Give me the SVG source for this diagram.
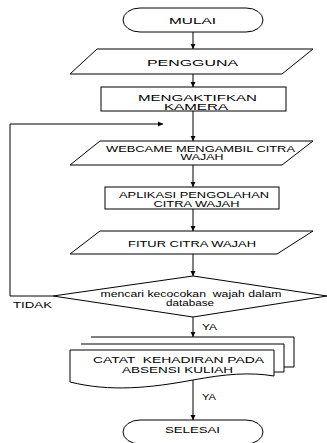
<svg xmlns="http://www.w3.org/2000/svg" width="327" height="443" viewBox="0 0 327 443">
<style>
.s{fill:#fff;stroke:#000;stroke-width:1}
.t{font-family:"Liberation Sans",Arial,sans-serif;font-size:8.6px;fill:#000}
.c{fill:none;stroke:#000;stroke-width:1}
</style>
<defs>
<marker id="ah" markerWidth="6" markerHeight="6" refX="5" refY="3" orient="auto" markerUnits="userSpaceOnUse">
<path d="M0,0.5 L5,3 L0,5.5 Z" fill="#000"/>
</marker>
</defs>
<rect width="327" height="443" fill="#fff"/>
<g id="connectors">
<line class="c" x1="193" y1="32" x2="193" y2="49" marker-end="url(#ah)"/>
<line class="c" x1="193" y1="74" x2="193" y2="87" marker-end="url(#ah)"/>
<line class="c" x1="193" y1="111" x2="193" y2="141" marker-end="url(#ah)"/>
<line class="c" x1="193" y1="165" x2="193" y2="187" marker-end="url(#ah)"/>
<line class="c" x1="193" y1="209" x2="193" y2="231" marker-end="url(#ah)"/>
<line class="c" x1="193" y1="254" x2="193" y2="276" marker-end="url(#ah)"/>
<line class="c" x1="193" y1="317" x2="193" y2="337" marker-end="url(#ah)"/>
<line class="c" x1="193" y1="380" x2="193" y2="420" marker-end="url(#ah)"/>
<polyline class="c" points="53,296 10,296 10,124 163,124" stroke="#333" marker-end="url(#ah)"/>
</g>
<g id="mulai">
<rect class="s" x="123" y="8" width="140" height="24" rx="17" ry="12"/>
<text class="t" x="169" y="24" font-size="9.5" textLength="47" lengthAdjust="spacingAndGlyphs">MULAI</text>
</g>
<g id="pengguna">
<polygon class="s" points="97,49 313,49 282,74 70,74"/>
<text class="t" x="147" y="65.5" font-size="10" textLength="91" lengthAdjust="spacingAndGlyphs">PENGGUNA</text>
</g>
<g id="kamera">
<rect class="s" x="101" y="87" width="185" height="24"/>
<text class="t" x="138" y="100.5" textLength="119" lengthAdjust="spacingAndGlyphs">MENGAKTIFKAN</text>
<text class="t" x="164" y="109.5" textLength="64" lengthAdjust="spacingAndGlyphs">KAMERA</text>
</g>
<g id="webcame">
<polygon class="s" points="100,141 313,141 282,165 70,165"/>
<text class="t" x="106" y="151.5" textLength="189" lengthAdjust="spacingAndGlyphs">WEBCAME MENGAMBIL CITRA</text>
<text class="t" x="180.5" y="160" textLength="43" lengthAdjust="spacingAndGlyphs">WAJAH</text>
</g>
<g id="aplikasi">
<rect class="s" x="105" y="187" width="174" height="22"/>
<text class="t" x="119" y="197.5" textLength="150" lengthAdjust="spacingAndGlyphs">APLIKASI PENGOLAHAN</text>
<text class="t" x="153.5" y="206.5" textLength="86" lengthAdjust="spacingAndGlyphs">CITRA WAJAH</text>
</g>
<g id="fitur">
<polygon class="s" points="100,231 313,231 277,254 70,254"/>
<text class="t" x="128" y="246.5" textLength="128" lengthAdjust="spacingAndGlyphs">FITUR CITRA WAJAH</text>
</g>
<g id="decision">
<polygon class="s" points="193,276 327,296 193,317 53,296"/>
<text class="t" x="100.5" y="296.5" textLength="181" lengthAdjust="spacingAndGlyphs" xml:space="preserve">mencari kecocokan  wajah dalam</text>
<text class="t" x="166" y="305.5" textLength="48" lengthAdjust="spacingAndGlyphs">database</text>
</g>
<g id="labels">
<text class="t" x="13" y="307.5" textLength="39" lengthAdjust="spacingAndGlyphs">TIDAK</text>
<text class="t" x="202" y="329.5" textLength="15" lengthAdjust="spacingAndGlyphs">YA</text>
<text class="t" x="202" y="399.5" textLength="14" lengthAdjust="spacingAndGlyphs">YA</text>
</g>
<g id="catat">
<path class="s" d="M91,337 H294 V367 H284"/>
<path class="s" d="M81,344 H284 V372 H274"/>
<path class="s" d="M70,350 H274 V376 C250,372 225,374 193,380 C150,388 110,392 70,382 Z"/>
<text class="t" x="93" y="362.5" textLength="171" lengthAdjust="spacingAndGlyphs" xml:space="preserve">CATAT  KEHADIRAN PADA</text>
<text class="t" x="122" y="372.5" textLength="111" lengthAdjust="spacingAndGlyphs">ABSENSI KULIAH</text>
</g>
<g id="selesai">
<rect class="s" x="123" y="420" width="140" height="24" rx="17" ry="12"/>
<text class="t" x="165" y="432.5" font-size="9" textLength="55" lengthAdjust="spacingAndGlyphs">SELESAI</text>
</g>
</svg>
